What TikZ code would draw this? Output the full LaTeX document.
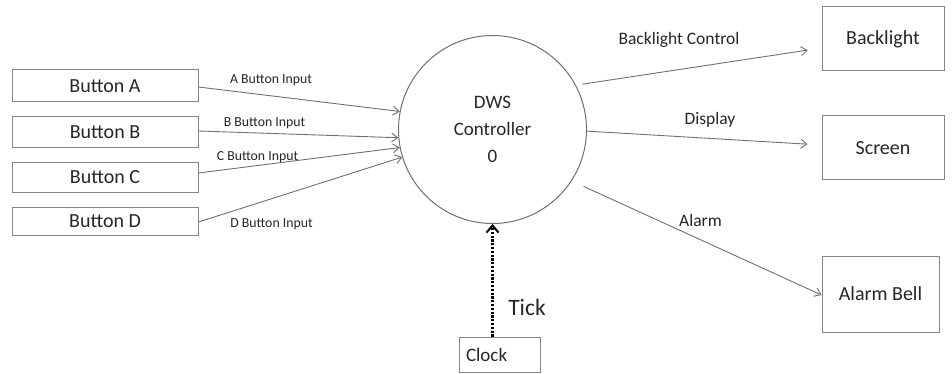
\documentclass[tikz,border=0pt]{standalone}
\usepackage{fontspec}
\setmainfont{Carlito}
\usetikzlibrary{arrows.meta,calc}
\definecolor{linegray}{HTML}{707070}
\definecolor{boxgray}{HTML}{848484}
\definecolor{txt}{HTML}{262626}
\tikzset{
  box/.style={draw=boxgray, line width=1pt, rectangle, inner sep=0pt, text=txt, font=\fontsize{20}{24}\selectfont},
  flow/.style={draw=linegray, line width=0.9pt, -{Straight Barb[length=6pt,width=9pt]}},
  smalllab/.style={text=txt, inner sep=0pt, font=\fontsize{13.8}{16}\selectfont},
  midlab/.style={text=txt, inner sep=0pt, font=\fontsize{17.5}{20}\selectfont},
  ticklab/.style={text=txt, inner sep=0pt, font=\fontsize{23.5}{26}\selectfont},
  proc/.style={draw=linegray, line width=1pt, circle, minimum size=188pt, inner sep=0pt, text=txt, align=center, font=\fontsize{19}{27}\selectfont},
  tickflow/.style={draw=black, line width=2.6pt, dash pattern=on 2.2pt off 1.6pt, -{Straight Barb[length=7pt,width=12pt,line width=2pt]}}
}
\begin{document}
\begin{tikzpicture}[x=1pt,y=-1pt]
\useasboundingbox (0,0) rectangle (952,374);
% processes
\node[proc] (ctrl) at (492.5,129.5) {DWS\\Controller\\0};
% left boxes
\node[box, minimum width=186pt, minimum height=32pt] (ba) at (105,86) {Button A};
\node[box, minimum width=186pt, minimum height=31pt] (bb) at (105,132.5) {Button B};
\node[box, minimum width=186pt, minimum height=29pt] (bc) at (105,177.5) {Button C};
\node[box, minimum width=186pt, minimum height=28pt] (bd) at (105,221) {Button D};
% right boxes
\node[box, minimum width=122pt, minimum height=64pt] (bl) at (883,39) {Backlight};
\node[box, minimum width=122pt, minimum height=64pt] (sc) at (883,148) {Screen};
\node[box, minimum width=117pt, minimum height=76pt] (al) at (880.5,294) {Alarm Bell};
% clock
\node[box, minimum width=81pt, minimum height=35pt, text width=67pt, align=left, inner xsep=7pt, font=\fontsize{19}{23}\selectfont] (ck) at (499.5,354.5) {Clock};
% inputs
\draw[flow] ([yshift=-1pt]ba.east) -- (ctrl.169.7);
\draw[flow] ([yshift=1.5pt]bb.east) -- (ctrl.185.5);
\draw[flow] ([yshift=4.5pt]bc.east) -- (ctrl.191.4);
\draw[flow] ([yshift=-1pt]bd.east) -- (ctrl.197.7);
\node[smalllab] (la) at (271,80) {A Button Input};
\node[smalllab] (lb) at (264.5,123) {B Button Input};
\node[smalllab] (lc) at (257.5,157.5) {C Button Input};
\node[smalllab] (ld) at (271.5,224) {D Button Input};
% outputs
\draw[flow, shorten <=6.5pt, shorten >=14pt] (ctrl.28) -- ([yshift=-9pt]bl.west);
\draw[flow, shorten >=14pt] (ctrl.-1.8) -- ([yshift=3pt]sc.west);
\draw[flow, shorten <=13pt] (ctrl.-33) -- ([yshift=-1pt]al.west);
\node[midlab] (lbc) at (679,39.5) {Backlight Control};
\node[midlab] (ldi) at (710,119.5) {Display};
\node[midlab] (lal) at (700.5,220) {Alarm};
% tick
\draw[tickflow] (ctrl.south |- ck.north) -- (ctrl.south);
\node[ticklab] (tk) at (527,307) {Tick};
\end{tikzpicture}
\end{document}
